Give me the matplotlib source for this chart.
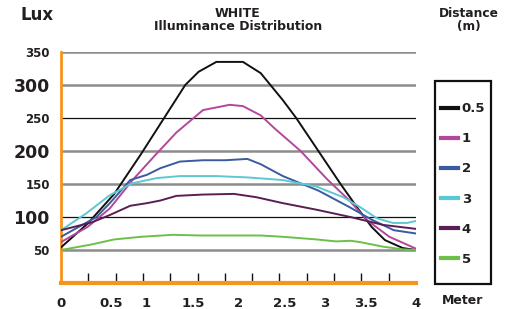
import matplotlib
matplotlib.use("Agg")
import matplotlib.pyplot as plt
from matplotlib.patches import Rectangle

# distance along the floor (m) and lux readings per mounting height
x_05 = [0, 0.3, 0.6, 0.9, 1.2, 1.4, 1.55, 1.75, 2.05, 2.25, 2.5, 2.65, 2.9, 3.15, 3.35, 3.5, 3.65, 3.85, 4.0]
y_05 = [54, 90, 135, 195, 258, 300, 320, 335, 335, 318, 277, 250, 200, 150, 112, 85, 65, 53, 50]

x_1 = [0, 0.3, 0.55, 0.8, 1.05, 1.3, 1.6, 1.9, 2.05, 2.25, 2.4, 2.7, 3.0, 3.25, 3.45, 3.7, 4.0]
y_1 = [62, 85, 113, 155, 192, 228, 262, 270, 268, 254, 235, 200, 157, 125, 95, 70, 52]

x_2 = [0, 0.2, 0.4, 0.55, 0.78, 0.97, 1.12, 1.34, 1.6, 1.85, 2.1, 2.25, 2.5, 2.9, 3.25, 3.5, 3.75, 4.0]
y_2 = [70, 85, 100, 121, 156, 164, 174, 184, 186, 186, 188, 180, 162, 140, 115, 96, 80, 75]

x_3 = [0, 0.29, 0.55, 0.8, 1.08, 1.34, 1.75, 2.1, 2.5, 2.88, 3.18, 3.37, 3.56, 3.74, 3.9, 4.0]
y_3 = [80, 106, 133, 151, 159, 162, 162, 160, 156, 146, 130, 115, 98, 91, 91, 94]

x_4 = [0, 0.35, 0.55, 0.78, 0.97, 1.12, 1.3, 1.6, 1.95, 2.2, 2.5, 2.88, 3.26, 3.63, 4.0]
y_4 = [80, 92, 103, 117, 121, 125, 132, 134, 135, 130, 121, 111, 100, 88, 82]

x_5 = [0, 0.33, 0.6, 0.9, 1.26, 1.57, 2.25, 2.5, 2.88, 3.1, 3.26, 3.37, 3.63, 3.85, 4.0]
y_5 = [50, 58, 66, 70, 73, 72, 72, 70, 66, 63, 64, 62, 55, 51, 50]

series = [
    ("0.5", x_05, y_05, "#111111"),
    ("1", x_1, y_1, "#B5479A"),
    ("2", x_2, y_2, "#3A5BA0"),
    ("3", x_3, y_3, "#5DC8D4"),
    ("4", x_4, y_4, "#5A1E55"),
    ("5", x_5, y_5, "#6CC04A"),
]

x_labels = ["0", "0.5", "1", "1.5", "2", "2.5", "3", "3.5", "4"]
x_label_pos = [0, 0.56, 0.96, 1.49, 2.0, 2.52, 2.97, 3.44, 4.0]
y_levels = [50, 100, 150, 200, 250, 300, 350]

TXT = "#231F20"
ORANGE = "#F7941D"
plt.rcParams["font.family"] = "DejaVu Sans"

fig = plt.figure(figsize=(5.1, 3.09), dpi=100)
ax = fig.add_axes([61 / 510, 26 / 309, 355 / 510, 231 / 309])

for lev in y_levels:
    if lev in (100, 250):
        ax.axhline(lev, color="#111111", lw=0.9, zorder=1)
    else:
        ax.axhline(lev, color="#8C8C8C", lw=1.8, zorder=1)

handles = []
for name, xs, ys, col in series:
    ln, = ax.plot(xs, ys, color=col, lw=1.4, label=name, zorder=3)
    handles.append(ln)

ax.set_xlim(0, 4)
ax.set_ylim(0, 350)

for s in ("top", "right"):
    ax.spines[s].set_visible(False)
ax.spines["left"].set_color(ORANGE)
ax.spines["left"].set_linewidth(2)
ax.spines["bottom"].set_color(ORANGE)
ax.spines["bottom"].set_linewidth(3)

ax.set_xticks(x_label_pos)
ax.set_xticklabels(x_labels, fontsize=9.5, fontweight="bold", color=TXT)
ax.set_xticks([i * 4 / 13 for i in range(1, 14)], minor=True)
ax.tick_params(axis="x", which="major", length=0, pad=10)
ax.tick_params(axis="x", which="minor", direction="in", length=7, width=1, color="#111111")

ax.set_yticks(y_levels)
ax.set_yticklabels([str(v) for v in y_levels], color=TXT, fontweight="bold")
for lab, v in zip(ax.get_yticklabels(), y_levels):
    lab.set_fontsize(12.5 if v in (100, 200, 300) else 8.5)
ax.tick_params(axis="y", length=0, pad=8)

fig.text(37 / 510, 1 - 15 / 309, "Lux", fontsize=12, fontweight="bold",
         color=TXT, ha="center", va="center")
fig.text(238 / 510, 1 - 20 / 309, "WHITE\nIlluminance Distribution", fontsize=9,
         fontweight="bold", color=TXT, ha="center", va="center", linespacing=0.95)
fig.text(469 / 510, 1 - 20 / 309, "Distance\n(m)", fontsize=8.8, fontweight="bold",
         color=TXT, ha="center", va="center", linespacing=0.95)
fig.text(463 / 510, 1 - 300 / 309, "Meter", fontsize=9, fontweight="bold",
         color=TXT, ha="center", va="center")

# legend frame drawn separately so it can be narrow and tall
fig.add_artist(Rectangle((435 / 510, 1 - 284 / 309), 56 / 510, 203 / 309,
                         transform=fig.transFigure, fill=False,
                         edgecolor="#111111", lw=1.6))
leg = fig.legend(handles=handles, loc="center",
                 bbox_to_anchor=(463 / 510, 1 - 184 / 309),
                 frameon=False, handlelength=1.3, handletextpad=0.3,
                 labelspacing=1.3, borderpad=0, borderaxespad=0,
                 prop={"weight": "bold", "size": 9.5})
for t in leg.get_texts():
    t.set_color(TXT)
for h in leg.legend_handles:
    h.set_linewidth(3)

fig.savefig("out.png", dpi=100)
